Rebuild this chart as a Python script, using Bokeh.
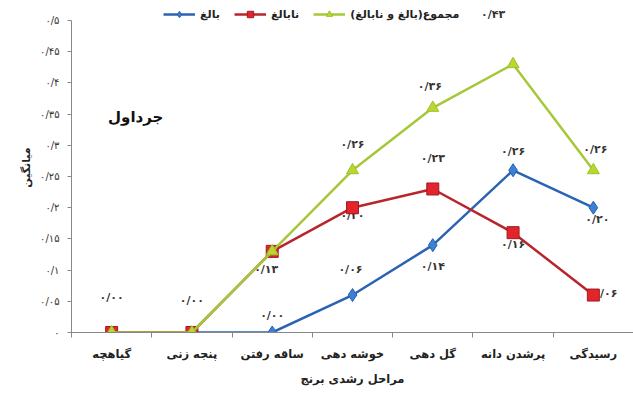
from bokeh.plotting import figure
from bokeh.models import FixedTicker, Legend, LegendItem, Range1d, ColumnDataSource, LabelSet
from bokeh.core.properties import value
from bokeh.embed import file_html
from bokeh.resources import INLINE

# Growth stages of rice (x axis categories)
stages = ["گیاهچه", "پنجه زنی", "ساقه رفتن", "خوشه دهی", "گل دهی", "پرشدن دانه", "رسیدگی"]

# Mean values per stage
mature = [0.00, 0.00, 0.00, 0.06, 0.14, 0.26, 0.20]
immature = [0.00, 0.00, 0.13, 0.20, 0.23, 0.16, 0.06]
total = [0.00, 0.00, 0.13, 0.26, 0.36, 0.43, 0.26]

series_names = ["بالغ", "نابالغ", "مجموع(بالغ و نابالغ)"]

y_ticks = [0.0, 0.05, 0.1, 0.15, 0.2, 0.25, 0.3, 0.35, 0.4, 0.45, 0.5]

FONT = "DejaVu Sans"
PERSIAN_DIGITS = str.maketrans("0123456789.", "۰۱۲۳۴۵۶۷۸۹/")


def fa_number(v, decimals=2):
    return f"{v:.{decimals}f}".translate(PERSIAN_DIGITS)


def fa_tick(v):
    if v == 0:
        return "۰"
    s = f"{v:.2f}".rstrip("0")
    return s.translate(PERSIAN_DIGITS)


x = [i + 0.5 for i in range(len(stages))]

# plot frame: 0 .. 0.5 spans 312 px; a little headroom above 0.5 for the legend
y_max = y_ticks[-1]
headroom = y_max * 18 / 312

p = figure(width=633, height=414, output_backend="svg", toolbar_location=None,
           x_range=Range1d(0, len(stages)), y_range=Range1d(0, y_max + headroom),
           min_border_left=71, min_border_right=0, min_border_top=2,
           min_border_bottom=82)
p.outline_line_color = None
p.xgrid.visible = False
p.ygrid.visible = False
p.background_fill_color = "white"
p.border_fill_color = "white"

# x axis: labels at stage centres, small ticks on stage boundaries
p.xaxis.ticker = FixedTicker(ticks=x, minor_ticks=list(range(len(stages) + 1)))
p.xaxis.major_label_overrides = {xi: s for xi, s in zip(x, stages)}
p.xaxis.major_tick_out = 0
p.xaxis.major_tick_in = 0
p.xaxis.minor_tick_out = 5
p.xaxis.minor_tick_in = 0
p.xaxis.minor_tick_line_color = "#888888"
p.xaxis.axis_line_color = "#888888"
p.xaxis.major_label_text_font = FONT
p.xaxis.major_label_text_font_size = "11.5px"
p.xaxis.major_label_text_font_style = "bold"
p.xaxis.major_label_text_color = "#222222"
p.xaxis.major_label_standoff = 9
p.xaxis.axis_label = "مراحل رشدی برنج"
p.xaxis.axis_label_text_font = FONT
p.xaxis.axis_label_text_font_size = "11.5px"
p.xaxis.axis_label_text_font_style = "bold"
p.xaxis.axis_label_text_color = "#222222"
p.xaxis.axis_label_standoff = 8

# y axis
p.yaxis.ticker = FixedTicker(ticks=y_ticks)
p.yaxis.bounds = (0, y_max)
p.yaxis.major_label_overrides = {t: fa_tick(t) for t in y_ticks}
p.yaxis.major_tick_out = 4
p.yaxis.major_tick_in = 0
p.yaxis.minor_tick_out = 0
p.yaxis.minor_tick_in = 0
p.yaxis.axis_line_color = "#888888"
p.yaxis.major_tick_line_color = "#888888"
p.yaxis.major_label_text_font = FONT
p.yaxis.major_label_text_font_size = "10px"
p.yaxis.major_label_text_color = "#333333"
p.yaxis.major_label_standoff = 8
p.yaxis.axis_label = "میانگین"
p.yaxis.axis_label_text_font = FONT
p.yaxis.axis_label_text_font_size = "11px"
p.yaxis.axis_label_text_font_style = "bold"
p.yaxis.axis_label_text_color = "#222222"
p.yaxis.axis_label_standoff = 4

# value labels: (dx, dy) in pixels per point (dy positive = up), None where no label is drawn
label_offsets = {
    "total": [(0, 35), (0, 32), (-6, -18), (0, 26), (-3, 21), (-20, 50), (2, 21)],
    "mature": [None, None, (0, 17), (-2, 26), (0, -21), (0, 19), (4, -12)],
    "immature": [None, None, None, (0, -8), (0, 30), (0, -12), (12, 2)],
}

lx, ly, ltxt, ldx, ldy = [], [], [], [], []
for key, vals in (("total", total), ("mature", mature), ("immature", immature)):
    for xi, v, off in zip(x, vals, label_offsets[key]):
        if off is None:
            continue
        lx.append(xi)
        ly.append(v)
        ltxt.append(fa_number(v))
        ldx.append(off[0])
        ldy.append(off[1])

lsrc = ColumnDataSource(dict(x=lx, y=ly, text=ltxt, dx=ldx, dy=ldy))
labels = LabelSet(x="x", y="y", text="text", x_offset="dx", y_offset="dy", source=lsrc,
                  text_font=value(FONT), text_font_size="11px", text_font_style="bold",
                  text_color="#333333", text_align="center", text_baseline="middle",
                  level="underlay")
p.add_layout(labels)

# series
blue_line = p.line(x, mature, line_color="#2a63b3", line_width=2.5)
blue_mark = p.scatter(x, mature, marker="diamond", size=13, fill_color="#3a80d6",
                      line_color="#2a5fae", line_width=1)
red_line = p.line(x, immature, line_color="#b8262c", line_width=2.5)
red_mark = p.scatter(x, immature, marker="square", size=12, fill_color="#e5232a",
                     line_color="#9e1d22", line_width=1)
green_line = p.line(x, total, line_color="#a5c83a", line_width=2.5)
green_mark = p.scatter(x, total, marker="triangle", size=12, fill_color="#b8d82e",
                       line_color="#9fc02e", line_width=1)

p.text(x=[0.8], y=[0.345], text=["جرداول"], text_font=value(FONT),
       text_font_size="15px", text_font_style="bold", text_color="#111111",
       text_align="center", text_baseline="middle")

legend = Legend(items=[
    LegendItem(label=series_names[0], renderers=[blue_line, blue_mark]),
    LegendItem(label=series_names[1], renderers=[red_line, red_mark]),
    LegendItem(label=series_names[2], renderers=[green_line, green_mark]),
], orientation="horizontal", location=(92, 310))
legend.border_line_color = None
legend.background_fill_alpha = 0
legend.label_text_font = FONT
legend.label_text_font_size = "11px"
legend.label_text_font_style = "bold"
legend.label_text_color = "#222222"
legend.glyph_width = 32
legend.glyph_height = 16
legend.label_standoff = 5
legend.spacing = 14
legend.padding = 0
legend.margin = 0
p.add_layout(legend, "center")

open("out.html", "w").write(file_html(p, INLINE))
